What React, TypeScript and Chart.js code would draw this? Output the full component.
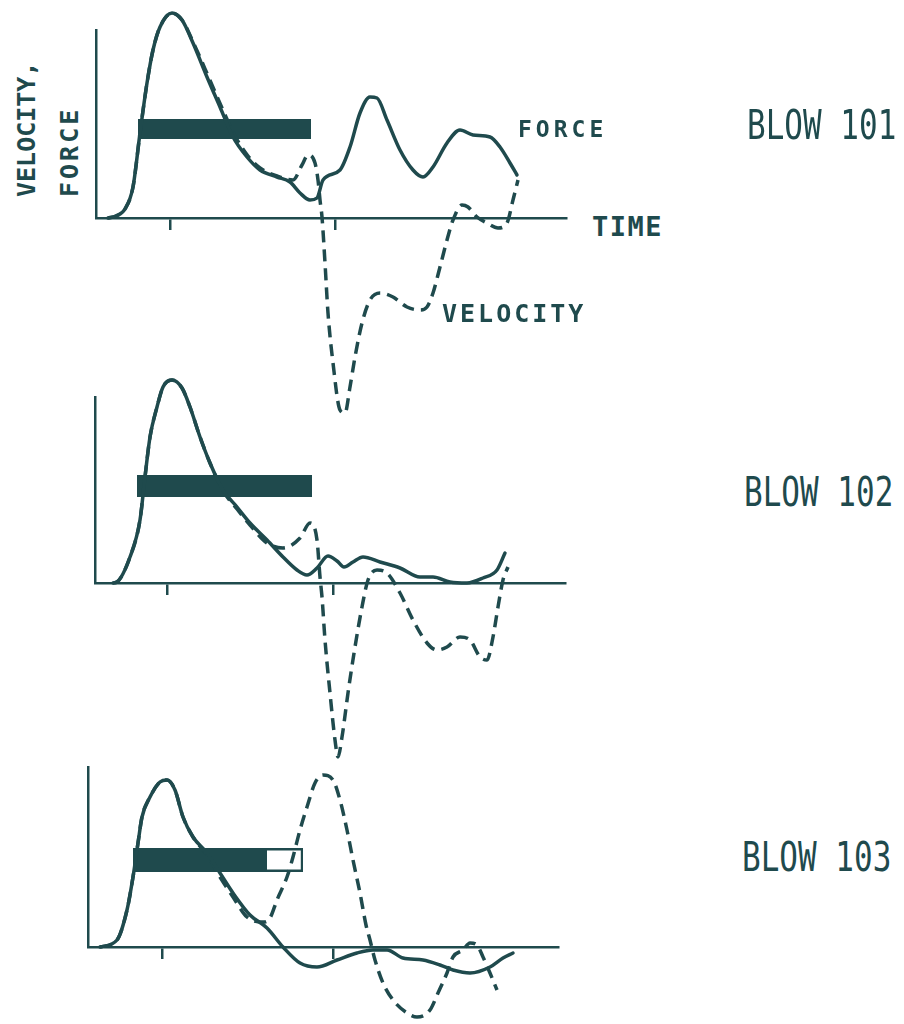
import React, { useEffect, useRef } from "react";
import { Chart, registerables } from "chart.js";

Chart.register(...registerables);

// ---------------- DATA (time in ms-like units, force/velocity in relative units) ----------------
const X_MAX = 47;
const Y_MAX = [94, 93, 90];

// Tick marks along the time axis of each blow
const TICKS_101 = [7.4, 23.9];
const TICKS_102 = [7.2, 23.8];
const TICKS_103 = [7.4, 24.5];

// BLOW 101
const T101_FORCE = [1.2, 2.0, 2.9, 3.7, 4.4, 5.1, 5.7, 6.4, 7.6, 8.6, 9.7, 11.1, 12.4, 13.7, 15.1, 16.4, 18.1, 19.4, 20.4, 21.4, 22.1, 22.7, 24.4, 25.4, 26.4, 27.4, 28.1, 29.1, 30.4, 31.7, 32.7, 33.7, 35.1, 36.4, 37.7, 39.4, 40.4, 41.4, 42.1];
const F101 = [0, 1, 4.5, 15.5, 42.5, 67.5, 84, 95.5, 102.5, 99, 87.5, 70.5, 55.5, 40.5, 30.5, 24, 20.5, 18, 12.5, 9, 10, 19, 24, 35.5, 52.5, 60.5, 60, 49, 34, 24, 20.5, 25.5, 37.5, 44, 41.5, 40.5, 35.5, 27.5, 21.5];
const T101_VEL = [1.2, 2.0, 2.9, 3.7, 4.4, 5.1, 5.7, 6.4, 7.6, 8.6, 9.8, 11.3, 12.6, 13.9, 15.2, 16.4, 18.1, 19.7, 20.6, 21.2, 21.9, 22.2, 22.4, 22.6, 22.9, 23.2, 23.7, 24.4, 24.9, 25.4, 25.9, 26.6, 27.4, 28.4, 29.7, 31.1, 32.4, 33.1, 33.7, 34.4, 35.1, 35.7, 36.6, 37.2, 38.1, 39.1, 40.2, 41.1, 41.7, 42.2];
const V101 = [0, 1, 4.5, 15.5, 42.5, 67.5, 84, 95.5, 102.5, 99, 87, 70, 55, 41, 31, 25, 21, 19, 26.5, 31.5, 27.5, 19, 9, 0.5, -22.5, -47.5, -72.5, -96, -97.5, -84.5, -69.5, -52.5, -41, -37.5, -39.5, -44.5, -46, -44.5, -37.5, -24.5, -11, -1, 6.5, 5.5, 0.5, -2.5, -5, -2.5, 9, 19];

// BLOW 102
const T102_FORCE = [1.8, 2.2, 3.5, 4.5, 5.0, 5.5, 6.2, 6.8, 7.7, 8.7, 9.5, 10.5, 11.5, 12.8, 14.2, 15.5, 17.2, 18.8, 20.2, 21.2, 22.2, 23.3, 24.2, 24.9, 25.8, 26.8, 28.5, 30.5, 32.5, 33.8, 35.5, 37.2, 38.8, 40.2, 41.0];
const F102 = [0, 0.5, 13, 31.5, 53, 73, 88, 98, 101.5, 97.5, 88, 73, 60, 46.5, 38, 30, 21.5, 13, 6.5, 4, 7.5, 13.5, 11, 8, 10.5, 13, 10.5, 7.5, 3, 3, 0.5, 0, 2.5, 6.5, 15];
const T102_VEL = [1.8, 2.2, 3.5, 4.5, 5.0, 5.5, 6.2, 6.8, 7.7, 8.7, 9.5, 10.5, 11.5, 12.8, 14.2, 15.5, 17.2, 18.8, 20.5, 21.5, 22.2, 22.5, 22.7, 23.0, 23.5, 24.0, 24.3, 24.7, 25.3, 26.0, 26.7, 27.3, 28.2, 29.2, 30.5, 31.8, 33.2, 34.2, 35.2, 36.5, 37.5, 38.5, 39.2, 39.8, 40.3, 40.8, 41.3];
const V102 = [0, 0.5, 13, 31.5, 53, 73, 88, 98, 101.5, 97.5, 88, 73, 60, 46, 37, 29, 20, 17.5, 22.5, 30, 21.5, 3, -7, -28.5, -55, -78.5, -87, -77, -55, -32, -12, 1.5, 6.5, 5, -5, -18.5, -30, -33.5, -32, -27, -28.5, -37, -38.5, -27, -12, 1.5, 8];

// BLOW 103
const T103_FORCE = [1.2, 2.9, 3.9, 4.5, 5.0, 5.4, 6.2, 7.2, 7.9, 8.7, 9.5, 10.5, 11.9, 13.2, 14.5, 16.2, 17.9, 19.5, 21.2, 22.9, 24.9, 26.9, 28.5, 29.9, 31.5, 33.5, 35.2, 36.5, 38.2, 40.2, 41.5, 42.5];
const F103 = [0, 3.5, 18.5, 35, 52, 65, 75, 82.5, 83.5, 78.5, 65, 55, 47, 37, 27, 16, 9.5, 0, -8, -10, -6.5, -3, -1.5, -1.5, -5.5, -6.5, -9, -11.5, -13, -10, -5.5, -3];
const T103_VEL = [1.2, 2.9, 3.9, 4.5, 5.0, 5.4, 6.2, 7.2, 7.9, 8.7, 9.5, 10.5, 11.9, 13.2, 14.5, 15.9, 17.5, 18.2, 18.9, 19.9, 20.5, 21.2, 21.9, 22.7, 23.5, 24.5, 25.2, 25.9, 26.5, 27.2, 27.8, 28.2, 28.7, 29.5, 30.5, 31.9, 32.9, 34.2, 35.0, 35.9, 36.5, 37.5, 38.2, 38.9, 39.5, 40.2, 40.9];
const V103 = [0, 3.5, 18.5, 35, 52, 65, 75, 82.5, 83.5, 78.5, 65, 55, 46, 35, 25, 15, 12.5, 14.5, 23.5, 35, 45, 58.5, 70, 82, 86, 83.5, 73.5, 58.5, 43.5, 27, 11, 3.5, -6.5, -18, -26.5, -33, -35, -31.5, -23, -13, -5, -1.5, 2, 1, -5, -13, -21.5];

// Horizontal duration bars (one per blow)
const BAR_START = [4.2, 4.2, 4.5];
const BAR_END = [21.5, 21.7, 21.5];
const BAR_LEVEL = [44.5, 48.5, 43.5];
const BAR_OPEN_START: (number | null)[] = [null, null, 17.9]; // unfilled portion (BLOW 103)

const BLOW_LABELS = ["BLOW 101", "BLOW 102", "BLOW 103"];

// ---------------- STYLE ----------------
const INK = "#1f4a4d";
const MONO = '"DejaVu Sans Mono", monospace';

type Pt = { x: number; y: number };
const pts = (t: number[], v: number[]): Pt[] => t.map((x, i) => ({ x, y: v[i] }));

type PanelProps = {
  idx: number;
  frame: { left: number; top: number; width: number; height: number };
  pad: { left: number; right: number; top: number; bottom: number };
  ticks: number[];
  tForce: number[];
  force: number[];
  tVel: number[];
  vel: number[];
  barWidth: number;
};

function Panel(p: PanelProps) {
  const ref = useRef<HTMLCanvasElement>(null);
  useEffect(() => {
    const i = p.idx;
    const datasets: any[] = [
      {
        label: "Force",
        data: pts(p.tForce, p.force),
        borderColor: INK,
        borderWidth: 3.5,
        pointRadius: 0,
        cubicInterpolationMode: "monotone",
        borderCapStyle: "round",
        borderJoinStyle: "round",
        clip: false,
        order: 0,
      },
      {
        label: "Velocity",
        data: pts(p.tVel, p.vel),
        borderColor: INK,
        borderWidth: 3.5,
        borderDash: [12, 7],
        pointRadius: 0,
        cubicInterpolationMode: "monotone",
        clip: false,
        order: 1,
      },
      {
        label: "Bar",
        data: [
          { x: BAR_START[i], y: BAR_LEVEL[i] },
          { x: BAR_END[i], y: BAR_LEVEL[i] },
        ],
        borderColor: INK,
        borderWidth: p.barWidth,
        borderCapStyle: "butt",
        pointRadius: 0,
        clip: false,
        order: 3,
      },
    ];
    const open = BAR_OPEN_START[i];
    if (open != null) {
      datasets.push({
        label: "Bar open",
        data: [
          { x: open, y: BAR_LEVEL[i] },
          { x: BAR_END[i] - 0.22, y: BAR_LEVEL[i] },
        ],
        borderColor: "#ffffff",
        borderWidth: p.barWidth - 5,
        borderCapStyle: "butt",
        pointRadius: 0,
        clip: false,
        order: 2,
      });
    }
    const chart = new Chart(ref.current as HTMLCanvasElement, {
      type: "line",
      data: { datasets },
      options: {
        animation: false,
        responsive: true,
        maintainAspectRatio: false,
        events: [],
        layout: { padding: p.pad },
        plugins: {
          legend: { display: false },
          tooltip: { enabled: false },
          title: { display: false },
        },
        scales: {
          x: {
            type: "linear",
            min: 0,
            max: X_MAX,
            position: "bottom",
            grid: {
              display: true,
              drawOnChartArea: false,
              drawTicks: true,
              tickLength: 12,
              color: INK,
              lineWidth: 2.5,
            },
            border: { display: true, color: INK, width: 2.5 },
            ticks: { display: false },
            afterBuildTicks: (s: any) => {
              s.ticks = p.ticks.map((v) => ({ value: v }));
            },
            afterFit: (s: any) => {
              s.height = 0;
            },
          },
          y: {
            type: "linear",
            min: 0,
            max: Y_MAX[i],
            grid: { display: false },
            border: { display: true, color: INK, width: 2.5 },
            ticks: { display: false },
            afterFit: (s: any) => {
              s.width = 0;
            },
          },
        },
      } as any,
    });
    return () => chart.destroy();
  }, []);
  return (
    <div
      style={{
        position: "absolute",
        left: p.frame.left,
        top: p.frame.top,
        width: p.frame.width,
        height: p.frame.height,
      }}
    >
      <canvas ref={ref} />
    </div>
  );
}

const textBase: React.CSSProperties = {
  position: "absolute",
  fontFamily: MONO,
  color: INK,
  whiteSpace: "nowrap",
};

export default function App() {
  return (
    <div
      style={{
        position: "fixed",
        left: 0,
        top: 0,
        width: 904,
        height: 1024,
        overflow: "hidden",
        background: "#ffffff",
      }}
    >
      <Panel
        idx={0}
        frame={{ left: 86, top: 0, width: 490, height: 430 }}
        pad={{ left: 10, right: 10, top: 30, bottom: 212 }}
        ticks={TICKS_101}
        tForce={T101_FORCE}
        force={F101}
        tVel={T101_VEL}
        vel={V101}
        barWidth={20}
      />
      <Panel
        idx={1}
        frame={{ left: 85, top: 360, width: 490, height: 420 }}
        pad={{ left: 10, right: 10, top: 37, bottom: 197 }}
        ticks={TICKS_102}
        tForce={T102_FORCE}
        force={F102}
        tVel={T102_VEL}
        vel={V102}
        barWidth={22}
      />
      <Panel
        idx={2}
        frame={{ left: 78, top: 740, width: 490, height: 284 }}
        pad={{ left: 10, right: 10, top: 27, bottom: 77 }}
        ticks={TICKS_103}
        tForce={T103_FORCE}
        force={F103}
        tVel={T103_VEL}
        vel={V103}
        barWidth={24}
      />

      {/* Vertical axis title */}
      <div
        style={{
          ...textBase,
          left: 14,
          top: 197,
          fontSize: 25,
          lineHeight: "25px",
          fontWeight: 700,
          transformOrigin: "0 0",
          transform: "rotate(-90deg)",
        }}
      >
        VELOCITY,
      </div>
      <div
        style={{
          ...textBase,
          left: 57,
          top: 197,
          fontSize: 25,
          lineHeight: "25px",
          fontWeight: 700,
          letterSpacing: 3,
          transformOrigin: "0 0",
          transform: "rotate(-90deg)",
        }}
      >
        FORCE
      </div>

      {/* Curve labels */}
      <div style={{ ...textBase, left: 518, top: 118, fontSize: 23, lineHeight: "23px", fontWeight: 700, letterSpacing: 4 }}>
        FORCE
      </div>
      <div style={{ ...textBase, left: 592, top: 213, fontSize: 27, lineHeight: "27px", fontWeight: 700, letterSpacing: 1.5 }}>
        TIME
      </div>
      <div style={{ ...textBase, left: 442, top: 301, fontSize: 25, lineHeight: "25px", fontWeight: 700, letterSpacing: 3 }}>
        VELOCITY
      </div>

      {/* Blow labels */}
      {BLOW_LABELS.map((t, k) => (
        <div
          key={t}
          style={{
            ...textBase,
            left: [747, 744, 742][k],
            top: [125, 492, 857][k],
            fontSize: 31,
            lineHeight: "31px",
            transform: "translateY(-50%) scaleY(1.3)",
          }}
        >
          {t}
        </div>
      ))}
    </div>
  );
}
